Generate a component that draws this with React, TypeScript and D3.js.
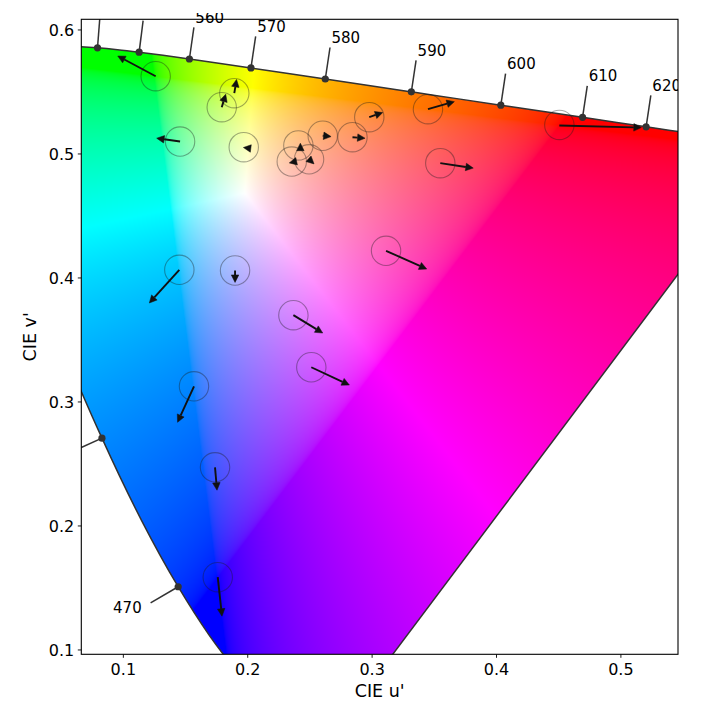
import React, { useMemo } from "react";
import * as d3 from "d3";

// CIE 1931 2° spectral locus chromaticities (x, y) at 5 nm
const WAVELENGTHS = [380,385,390,395,400,405,410,415,420,425,430,435,440,445,450,455,460,465,470,475,480,485,490,495,500,505,510,515,520,525,530,535,540,545,550,555,560,565,570,575,580,585,590,595,600,605,610,615,620,625,630,635,640,645,650,655,660,665,670,675,680,685,690,695,700];
const LOCUS_X = [0.1741,0.1740,0.1738,0.1736,0.1733,0.1730,0.1726,0.1721,0.1714,0.1703,0.1689,0.1669,0.1644,0.1611,0.1566,0.1510,0.1440,0.1355,0.1241,0.1096,0.0913,0.0687,0.0454,0.0235,0.0082,0.0039,0.0139,0.0389,0.0743,0.1142,0.1547,0.1929,0.2296,0.2658,0.3016,0.3373,0.3731,0.4087,0.4441,0.4788,0.5125,0.5448,0.5752,0.6029,0.6270,0.6482,0.6658,0.6801,0.6915,0.7006,0.7079,0.7140,0.7190,0.7230,0.7260,0.7283,0.7300,0.7311,0.7320,0.7327,0.7334,0.7340,0.7344,0.7346,0.7347];
const LOCUS_Y = [0.0050,0.0050,0.0049,0.0049,0.0048,0.0048,0.0048,0.0048,0.0051,0.0058,0.0069,0.0086,0.0109,0.0138,0.0177,0.0227,0.0297,0.0399,0.0578,0.0868,0.1327,0.2007,0.2950,0.4127,0.5384,0.6548,0.7502,0.8120,0.8338,0.8262,0.8059,0.7816,0.7543,0.7243,0.6923,0.6589,0.6245,0.5896,0.5547,0.5202,0.4866,0.4544,0.4242,0.3965,0.3725,0.3514,0.3340,0.3197,0.3083,0.2993,0.2920,0.2859,0.2809,0.2770,0.2740,0.2717,0.2700,0.2689,0.2680,0.2673,0.2666,0.2660,0.2656,0.2654,0.2653];
// wavelengths marked with a dot and leader line
const LABEL_WAVELENGTHS = [460,470,480,490,500,510,520,530,540,550,560,570,580,590,600,610,620,630];
// wavelengths whose label text falls within the visible area
const LABEL_TEXTS = [470,560,570,580,590,600,610,620];
const WHITE_UV = [0.1978, 0.4683];

const X_TICKS = [0.1, 0.2, 0.3, 0.4, 0.5];
const Y_TICKS = [0.1, 0.2, 0.3, 0.4, 0.5, 0.6];

// test chromaticities (circles)
const TEST_U = [0.1260,0.1456,0.1791,0.1892,0.1968,0.2407,0.2354,0.2493,0.2603,0.2842,0.2977,0.3449,0.3548,0.4505,0.3112,0.1450,0.1898,0.2367,0.2511,0.1568,0.1737,0.1759];
const TEST_V = [0.5627,0.5100,0.5377,0.5490,0.5055,0.5069,0.4939,0.4957,0.5147,0.5135,0.5297,0.5361,0.4926,0.5234,0.4219,0.4066,0.4060,0.3700,0.3280,0.3126,0.2473,0.1587];
// arrows: start and tip
const ARROW_U0 = [0.1260,0.1456,0.1791,0.1892,0.2018,0.2423,0.2388,0.2493,0.2603,0.2842,0.2977,0.3449,0.3548,0.4505,0.3112,0.1450,0.1898,0.2367,0.2511,0.1568,0.1737,0.1759];
const ARROW_V0 = [0.5627,0.5100,0.5377,0.5490,0.5045,0.5037,0.4940,0.4957,0.5147,0.5135,0.5297,0.5361,0.4926,0.5229,0.4219,0.4066,0.4060,0.3700,0.3280,0.3126,0.2473,0.1587];
const ARROW_U1 = [0.0955,0.1268,0.1823,0.1910,0.1965,0.2423,0.2334,0.2533,0.2670,0.2943,0.3085,0.3661,0.3813,0.5164,0.3439,0.1209,0.1898,0.2603,0.2817,0.1436,0.1753,0.1793];
const ARROW_V1 = [0.5790,0.5127,0.5482,0.5601,0.5052,0.5087,0.4928,0.4920,0.5140,0.5127,0.5334,0.5422,0.4886,0.5213,0.4072,0.3798,0.3964,0.3556,0.3137,0.2836,0.2288,0.1272];

const FONT = "DejaVu Sans, Verdana, sans-serif";

function xyToUv(xc: number, yc: number): [number, number] {
  const d = -2 * xc + 12 * yc + 3;
  return [(4 * xc) / d, (9 * yc) / d];
}

function uvToRGB(u: number, v: number): [number, number, number] {
  if (v <= 1e-6) return [0, 0, 0];
  const X = (9 * u) / (4 * v);
  const Y = 1;
  const Z = (12 - 3 * u - 20 * v) / (4 * v);
  const lin = [
    3.2404542 * X - 1.5371385 * Y - 0.4985314 * Z,
    -0.969266 * X + 1.8760108 * Y + 0.041556 * Z,
    0.0556434 * X - 0.2040259 * Y + 1.0572252 * Z,
  ];
  const enc = lin.map((c) => (c <= 0.0031308 ? 12.92 * c : 1.055 * Math.pow(c, 1 / 2.4) - 0.055));
  const m = Math.max(enc[0], enc[1], enc[2]);
  return enc.map((c) => Math.min(1, Math.max(0, c / m))) as [number, number, number];
}

export default function App() {
  const L = 81.3, R = 678, T = 19.3, B = 654.3;
  const x = d3.scaleLinear().domain([0.0662, 0.5459]).range([L, R]);
  const y = d3.scaleLinear().domain([0.0965, 0.6086]).range([B, T]);

  const uv = WAVELENGTHS.map((_, i) => xyToUv(LOCUS_X[i], LOCUS_Y[i]));
  const locusPath =
    (d3
      .line<[number, number]>()
      .x((d) => x(d[0]))
      .y((d) => y(d[1]))
      .curve(d3.curveCatmullRom.alpha(0.5))(uv) || "") + "Z";

  const imgUrl = useMemo(() => {
    const W = Math.round(R - L);
    const H = Math.round(B - T);
    const canvas = document.createElement("canvas");
    canvas.width = W;
    canvas.height = H;
    const ctx = canvas.getContext("2d");
    if (!ctx) return "";
    const img = ctx.createImageData(W, H);
    for (let j = 0; j < H; j++) {
      const v = y.invert(T + ((j + 0.5) * (B - T)) / H);
      for (let i = 0; i < W; i++) {
        const u = x.invert(L + ((i + 0.5) * (R - L)) / W);
        const c = uvToRGB(u, v);
        const k = (j * W + i) * 4;
        img.data[k] = Math.round(c[0] * 255);
        img.data[k + 1] = Math.round(c[1] * 255);
        img.data[k + 2] = Math.round(c[2] * 255);
        img.data[k + 3] = 255;
      }
    }
    ctx.putImageData(img, 0, 0);
    return canvas.toDataURL();
  }, []);

  const labelFs = 15;
  const labels = LABEL_WAVELENGTHS.map((w) => {
    const i = WAVELENGTHS.indexOf(w);
    const p = uv[i];
    const a = uv[i - 1];
    const b = uv[i + 1];
    let nx = -(b[1] - a[1]);
    let ny = b[0] - a[0];
    const len = Math.hypot(nx, ny);
    nx /= len;
    ny /= len;
    if (nx * (p[0] - WHITE_UV[0]) + ny * (p[1] - WHITE_UV[1]) < 0) {
      nx = -nx;
      ny = -ny;
    }
    return {
      w,
      px: x(p[0]),
      py: y(p[1]),
      lx: x(p[0] + nx * 0.0257),
      ly: y(p[1] + ny * 0.0257),
      tx: x(p[0] + nx * 0.034),
      ty: y(p[1] + ny * 0.034),
      anchor: nx >= 0 ? "start" : "end",
    };
  });

  const arrows = ARROW_U0.map((_, i) => {
    const x0 = x(ARROW_U0[i]), y0 = y(ARROW_V0[i]);
    const x1 = x(ARROW_U1[i]), y1 = y(ARROW_V1[i]);
    const dx = x1 - x0, dy = y1 - y0;
    const len = Math.hypot(dx, dy);
    const ux = dx / len, uy = dy / len;
    const hl = 7.5, hw = 7.5;
    const bx = x1 - ux * hl, by = y1 - uy * hl;
    const head = `M${x1},${y1}L${bx - uy * hw / 2},${by + ux * hw / 2}L${bx + uy * hw / 2},${by - ux * hw / 2}Z`;
    return { x0, y0, bx, by, head, showLine: len > hl };
  });

  return (
    <svg
      width={720}
      height={720}
      style={{ position: "absolute", left: 0, top: 0, background: "#fff" }}
      fontFamily={FONT}
    >
      <defs>
        <clipPath id="axesClip">
          <rect x={L} y={T} width={R - L} height={B - T} />
        </clipPath>
        <clipPath id="textClip">
          <rect x={L} y={13} width={R - L} height={B - 13} />
        </clipPath>
        <clipPath id="locusClip">
          <path d={locusPath} />
        </clipPath>
      </defs>
      <rect x={0} y={0} width={720} height={720} fill="#fff" />
      <g clipPath="url(#axesClip)">
        <g clipPath="url(#locusClip)">
          <image href={imgUrl} x={L} y={T} width={R - L} height={B - T} preserveAspectRatio="none" />
        </g>
        <path d={locusPath} fill="none" stroke="#333" strokeWidth={1.5} />
        {labels.map((l) => (
          <line key={"l" + l.w} x1={l.px} y1={l.py} x2={l.lx} y2={l.ly} stroke="#333" strokeWidth={1.5} />
        ))}
        {labels.map((l) => (
          <circle key={"d" + l.w} cx={l.px} cy={l.py} r={3.6} fill="#333" />
        ))}
        {TEST_U.map((u, i) => (
          <circle key={"c" + i} cx={x(u)} cy={y(TEST_V[i])} r={14.7} fill="none" stroke="rgba(30,30,30,0.38)" strokeWidth={1.1} />
        ))}
        {arrows.map((a, i) => (
          <g key={"a" + i}>
            {a.showLine && <line x1={a.x0} y1={a.y0} x2={a.bx} y2={a.by} stroke="#111" strokeWidth={1.9} />}
            <path d={a.head} fill="#111" stroke="#111" strokeWidth={0.5} />
          </g>
        ))}
      </g>
      <g clipPath="url(#textClip)">
        {labels
          .filter((l) => LABEL_TEXTS.includes(l.w))
          .map((l) => (
            <text key={"t" + l.w} x={l.tx} y={l.ty + 0.36 * labelFs} fontSize={labelFs} textAnchor={l.anchor} fill="#000">
              {l.w}
            </text>
          ))}
      </g>
      <rect x={L} y={T} width={R - L} height={B - T} fill="none" stroke="#000" strokeWidth={1.1} />
      {X_TICKS.map((t) => (
        <g key={"xt" + t}>
          <line x1={x(t)} x2={x(t)} y1={B} y2={B + 3.5} stroke="#000" strokeWidth={0.9} />
          <text x={x(t)} y={B + 21} fontSize={16} textAnchor="middle">
            {t.toFixed(1)}
          </text>
        </g>
      ))}
      {Y_TICKS.map((t) => (
        <g key={"yt" + t}>
          <line x1={L} x2={L - 3.5} y1={y(t)} y2={y(t)} stroke="#000" strokeWidth={0.9} />
          <text x={L - 7} y={y(t) + 0.36 * 16} fontSize={16} textAnchor="end">
            {t.toFixed(1)}
          </text>
        </g>
      ))}
      <text x={(L + R) / 2} y={697} fontSize={17.5} textAnchor="middle">
        CIE u'
      </text>
      <text transform={`translate(36, ${(T + B) / 2}) rotate(-90)`} fontSize={17.5} textAnchor="middle">
        CIE v'
      </text>
    </svg>
  );
}
